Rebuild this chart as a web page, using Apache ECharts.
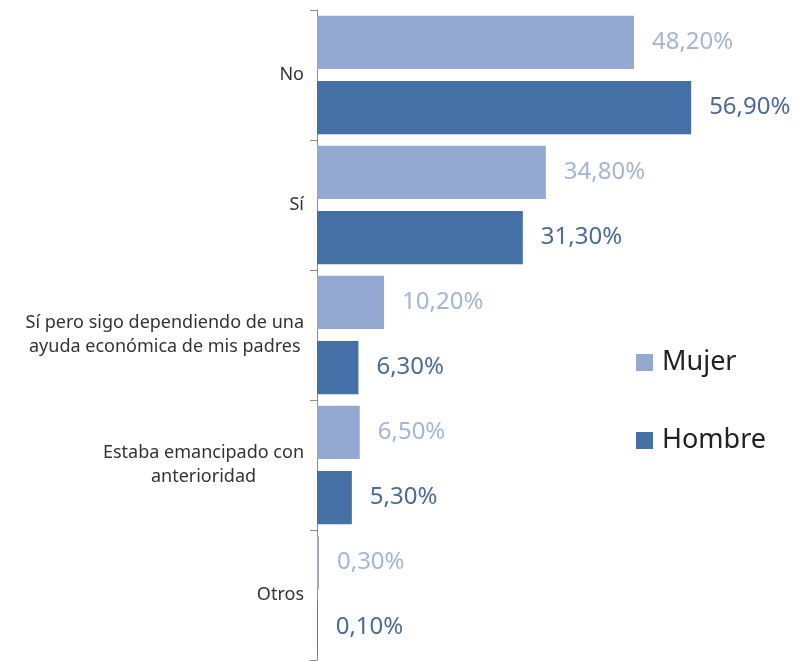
<!DOCTYPE html>
<html>
<head>
<meta charset="utf-8">
<script src="https://cdn.jsdelivr.net/npm/echarts@6/dist/echarts.min.js"></script>
<style>
  html, body { margin: 0; padding: 0; background: #fff; }
  #chart { width: 798px; height: 661px; }
</style>
</head>
<body>
<div id="chart"></div>
<script>
var categories = [
    "No",
    "Sí",
    "Sí pero sigo dependiendo de una\nayuda económica de mis padres",
    "Estaba emancipado con\nanterioridad",
    "Otros"
];
var mujer = [48.2, 34.8, 10.2, 6.5, 0.3];
var hombre = [56.9, 31.3, 6.3, 5.3, 0.1];

function pct(p) {
    return p.value.toFixed(2).replace(".", ",") + "%";
}

var chart = echarts.init(document.getElementById("chart"));
chart.setOption({
    animation: false,
    grid: { left: 317, top: 10, bottom: 1, width: 480 },
    legend: {
        orient: "vertical",
        left: 631,
        top: 344,
        itemWidth: 17,
        itemHeight: 17,
        itemGap: 51,
        icon: "rect",
        textStyle: { fontFamily: "Noto Sans", fontSize: 27, color: "#222", padding: [0, 0, 0, 4] },
        data: ["Mujer", "Hombre"]
    },
    xAxis: {
        type: "value",
        min: 0,
        max: 73,
        show: false
    },
    yAxis: {
        type: "category",
        inverse: true,
        data: categories,
        axisLine: { lineStyle: { color: "#8c8c8c", width: 1 } },
        axisTick: { show: true, length: 7, lineStyle: { color: "#8c8c8c" } },
        axisLabel: {
            margin: 13,
            fontFamily: "Noto Sans",
            fontSize: 18,
            color: "#333",
            lineHeight: 24,
            formatter: function (v) {
                return "{c|" + v + "}";
            },
            rich: { c: { align: "center", fontFamily: "Noto Sans", fontSize: 18, lineHeight: 24, color: "#333" } }
        }
    },
    series: [
        {
            name: "Mujer",
            type: "bar",
            data: mujer,
            barGap: "23%",
            barCategoryGap: "9%",
            itemStyle: { color: "#93a9d1" },
            label: {
                show: true,
                position: "right",
                distance: 18,
                fontFamily: "Noto Sans",
                fontSize: 24,
                color: "#a4b6d6",
                formatter: pct
            }
        },
        {
            name: "Hombre",
            type: "bar",
            data: hombre,
            itemStyle: { color: "#4470a5" },
            label: {
                show: true,
                position: "right",
                distance: 18,
                fontFamily: "Noto Sans",
                fontSize: 24,
                color: "#4b6b97",
                formatter: pct
            }
        }
    ]
});
</script>
</body>
</html>
